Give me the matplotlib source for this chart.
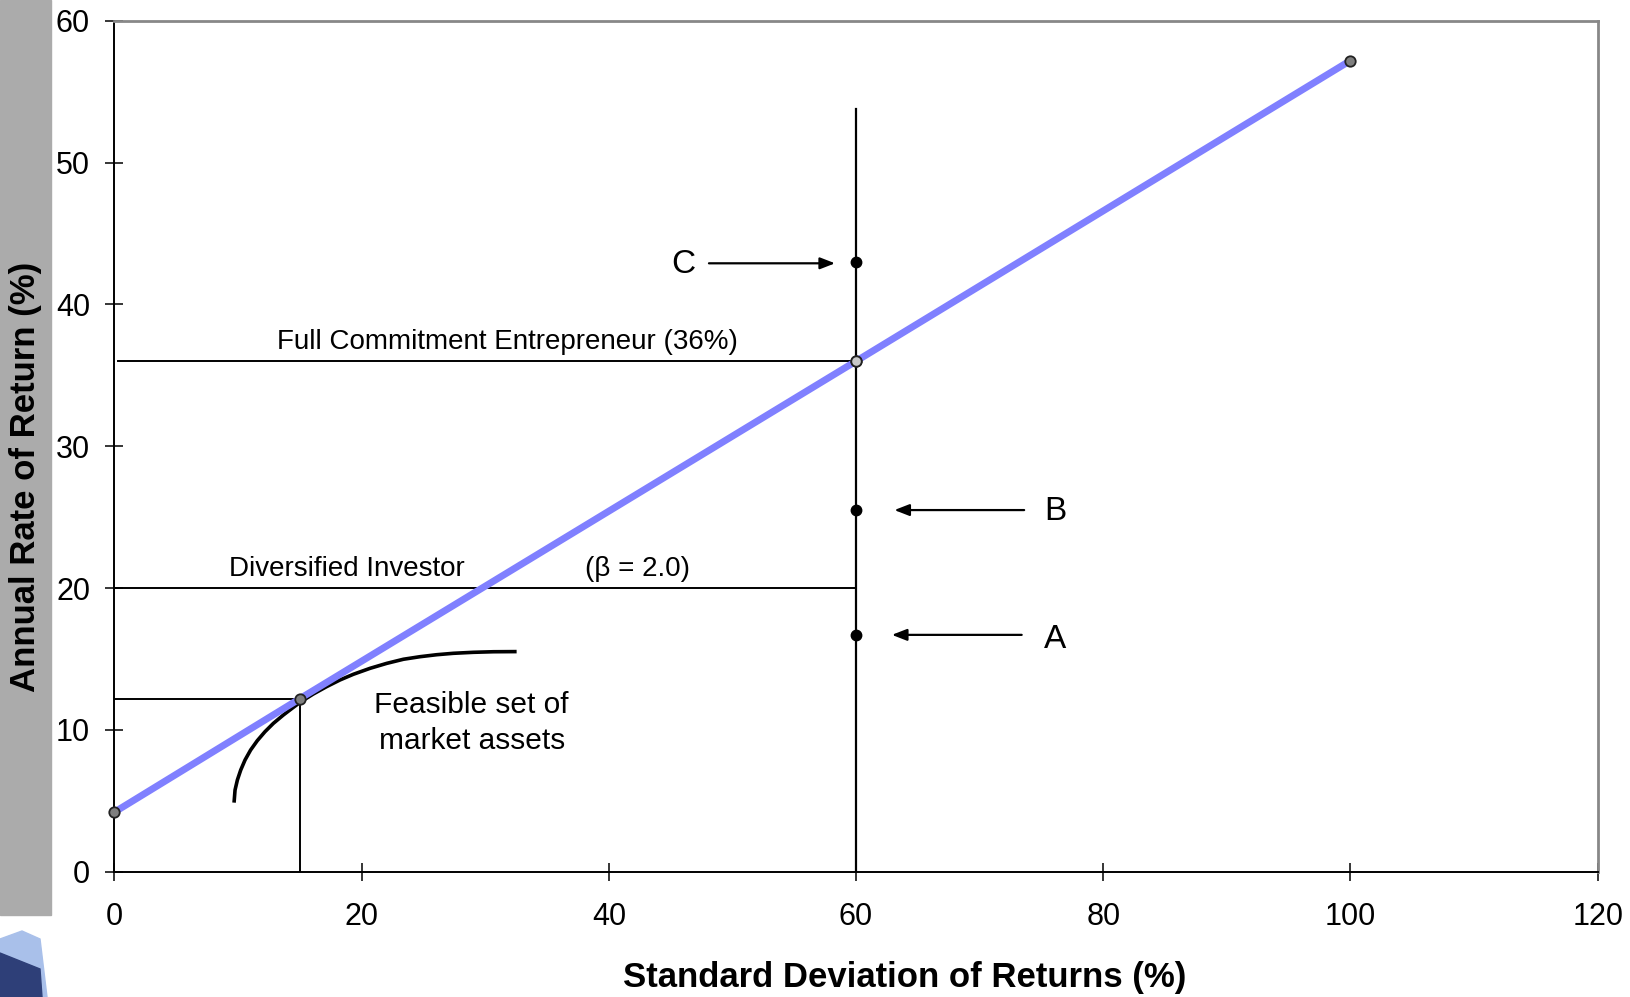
import matplotlib
matplotlib.use("Agg")
import matplotlib.pyplot as plt
from matplotlib.patches import Rectangle, Polygon

plt.rcParams['font.family'] = ['Liberation Sans', 'DejaVu Sans']

# capital market line (risk-free point, tangent point, entrepreneur point, end)
cml_x = [0, 15, 60, 100]
cml_y = [4.2, 12.2, 36.0, 57.2]

# feasible set of market assets
feas_x = [9.68, 9.76, 9.95, 10.22, 10.57, 11.02, 11.56, 12.18, 12.86, 13.67, 14.48,
          15.10, 16.09, 17.17, 18.25, 19.33, 20.68, 22.03, 23.38, 24.72, 26.07,
          27.42, 29.04, 30.66, 32.54]
feas_y = [4.87, 5.76, 6.47, 7.17, 7.88, 8.58, 9.24, 9.87, 10.46, 11.05, 11.59,
          11.99, 12.53, 13.05, 13.52, 13.92, 14.34, 14.69, 14.98, 15.16, 15.30,
          15.40, 15.47, 15.51, 15.52]

# A, B, C points on the 60% volatility line
pt_labels = ['A', 'B', 'C']
pt_y = [16.7, 25.5, 43.0]
pt_sigma = 60

entre_ret = 36
divers_ret = 20
tangent_sigma = 15
tangent_ret = 12.2
vline_top = 53.8

xticks = [0, 20, 40, 60, 80, 100, 120]
yticks = [0, 10, 20, 30, 40, 50, 60]

fig = plt.figure(figsize=(16.31, 9.97), dpi=100)
fig.patches.append(Rectangle((0, 1 - 915 / 997), 51 / 1631, 915 / 997,
                             transform=fig.transFigure, color='#ababab', zorder=0))

ax = fig.add_axes([114.4 / 1631, 1 - 871.7 / 997, (1597.7 - 114.4) / 1631, (871.7 - 20.8) / 997])
ax.set_xlim(0, 120)
ax.set_ylim(0, 60)
ax.set_xticks(xticks)
ax.set_yticks(yticks)
ax.tick_params(direction='inout', length=13, width=1.1, labelsize=22, colors='black')
ax.tick_params(axis='x', pad=15)
ax.tick_params(axis='y', pad=11)
for s in ['left', 'bottom']:
    ax.spines[s].set_linewidth(1.4)
for s in ['top', 'right']:
    ax.spines[s].set_color('#888888')
    ax.spines[s].set_linewidth(2)

# reference lines
ax.plot([0.3, pt_sigma], [entre_ret, entre_ret], color='black', lw=1.4)
ax.plot([0, pt_sigma], [divers_ret, divers_ret], color='black', lw=1.4)
ax.plot([0, tangent_sigma], [tangent_ret, tangent_ret], color='black', lw=1.4)
ax.plot([tangent_sigma, tangent_sigma], [0, tangent_ret], color='black', lw=1.4)
ax.plot([pt_sigma, pt_sigma], [0, vline_top], color='black', lw=1.6)

# feasible set curve
ax.plot(feas_x, feas_y, color='black', lw=2.6, solid_capstyle='butt', solid_joinstyle='round')

# capital market line
ax.plot(cml_x, cml_y, color='#8080ff', lw=5, solid_capstyle='butt', zorder=3)
ax.plot(cml_x, cml_y, 'o', ms=7.5, mfc='#7f7f7f', mec='#222222', mew=1.3, zorder=4,
        linestyle='none', clip_on=False)
ax.plot([pt_sigma], [entre_ret], 'o', ms=7.5, mfc='#c8c8c8', mec='#222222', mew=1.3, zorder=5)

# A, B, C
ax.plot([pt_sigma] * 3, pt_y, 'o', ms=7.5, color='black', zorder=5)
arrow = dict(arrowstyle='-|>,head_length=0.9,head_width=0.35', color='black', lw=1.6,
             shrinkA=0, shrinkB=0)
ax.annotate('', xy=(62.9, pt_y[0]), xytext=(73.4, pt_y[0]), arrowprops=arrow)
ax.annotate('', xy=(63.1, pt_y[1]), xytext=(73.6, pt_y[1]), arrowprops=arrow)
ax.annotate('', xy=(58.3, pt_y[2] - 0.1), xytext=(48.1, pt_y[2] - 0.1), arrowprops=arrow)
ax.text(75.2, pt_y[0] - 0.3, pt_labels[0], fontsize=24, va='center', ha='left')
ax.text(75.2, pt_y[1] - 0.1, pt_labels[1], fontsize=24, va='center', ha='left')
ax.text(47.0, pt_y[2] - 0.2, pt_labels[2], fontsize=24, va='center', ha='right')

# annotations
ax.text(31.8, 36.4, 'Full Commitment Entrepreneur (36%)', fontsize=20, ha='center', va='bottom')
ax.text(9.3, 20.4, 'Diversified Investor', fontsize=20, ha='left', va='bottom')
ax.text(38.1, 20.4, '(\u03b2 = 2.0)', fontsize=20, ha='left', va='bottom')
ax.text(28.9, 10.5, 'Feasible set of\nmarket assets', fontsize=21.5, ha='center', va='center',
        linespacing=1.35)

fig.text(905 / 1631, 1 - 977 / 997, 'Standard Deviation of Returns (%)', fontsize=25,
         fontweight='bold', ha='center', va='center')
fig.text(26 / 1631, 1 - 477 / 997, 'Annual Rate of Return (%)', fontsize=25,
         fontweight='bold', ha='center', va='center', rotation=90)

# small building logo in the lower left corner
fig.patches.append(Polygon([(0, 0), (0, 58 / 997), (22 / 1631, 66 / 997), (40 / 1631, 58 / 997),
                            (47 / 1631, 0)], closed=True, transform=fig.transFigure,
                           color='#a9c0ea', zorder=0))
fig.patches.append(Polygon([(0, 0), (0, 44 / 997), (40 / 1631, 28 / 997), (42 / 1631, 0)],
                           closed=True, transform=fig.transFigure, color='#2e3f78', zorder=0))

fig.savefig('out.png', dpi=100)
